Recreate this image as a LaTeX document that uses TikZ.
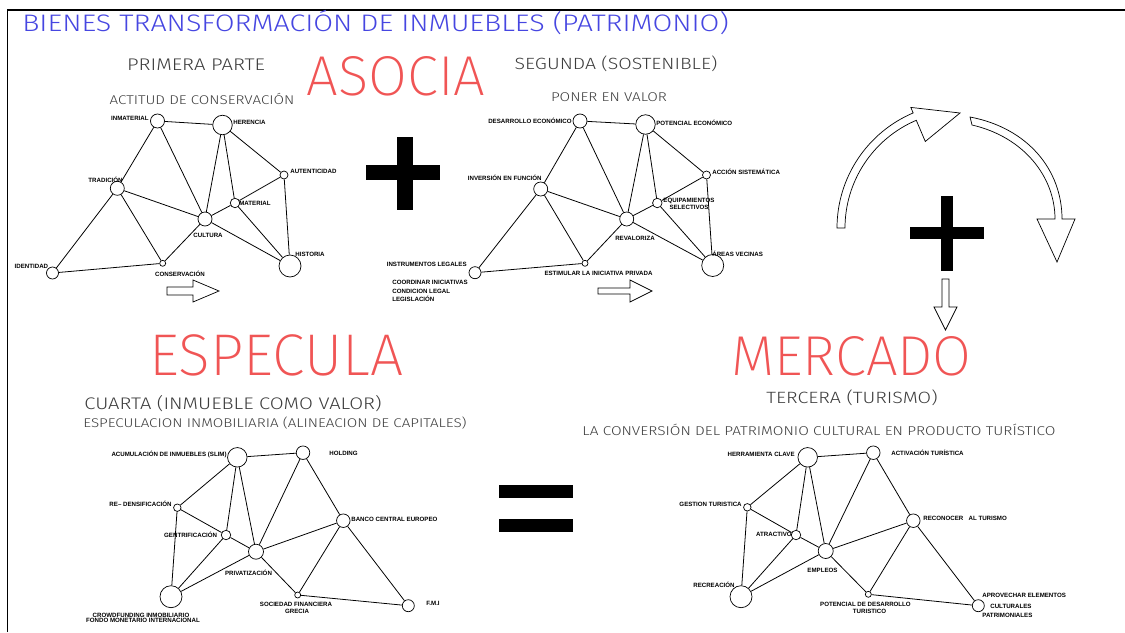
\documentclass[tikz,border=0pt]{standalone}
\usepackage{fontspec}
\setmainfont{Liberation Sans}
\newfontfamily\thinfont[FakeStretch=1.2]{Fira Sans Light}
\newfontfamily\hairfont{Fira Sans ExtraLight}

\definecolor{titleblue}{RGB}{70,70,225}
\definecolor{headred}{RGB}{240,85,85}
\definecolor{subgray}{RGB}{60,60,60}

\newcommand{\lblfont}{\fontsize{3.5}{4.1}\selectfont\bfseries}

\tikzset{
  nd/.style={circle,draw,line width=0.4pt,inner sep=0pt,minimum size=#1},
  lbl/.style={font=\lblfont,inner sep=0pt},
  edge/.style={line width=0.45pt},
  hollow/.style={draw,line width=0.4pt,fill=white},
  bigred/.style={font=\hairfont\fontsize{#1}{34}\selectfont,text=headred,inner sep=0pt},
  bigred/.default=32,
  subhead/.style={text=subgray,inner sep=0pt,font=\thinfont\fontsize{#1}{#1}\selectfont},
}

\begin{document}
\begin{tikzpicture}[x=0.02cm,y=-0.02cm]
    \useasboundingbox (0,0) rectangle (1125,632);
    \draw[line width=1.1pt] (7.5,632) -- (7.5,10) -- (1125,10);

    \node[font=\thinfont\fontsize{13.6}{16}\selectfont,text=titleblue,anchor=west,inner sep=0pt] (title) at (22,22.5) {BIENES TRANSFORMACIÓN DE INMUEBLES (PATRIMONIO)};
    \node[subhead=9.6] (primera) at (196,65) {PRIMERA PARTE};
    \node[bigred] (asocia) at (396,76) {ASOCIA};
    \node[subhead=9.25] (segunda) at (616,64) {SEGUNDA (SOSTENIBLE)};
    \node[subhead=7.2] (actitud) at (202,99) {ACTITUD DE CONSERVACIÓN};
    \node[subhead=7.25] (poner) at (609,97) {PONER EN VALOR};

    % primera parte
    \node[nd=0.28cm] (inm) at (157.5,121) {};
    \node[nd=0.39cm] (her) at (222.5,125) {};
    \node[nd=0.16cm] (aut) at (284,175) {};
    \node[nd=0.28cm] (tra) at (117.3,188.3) {};
    \node[nd=0.19cm] (mat) at (235,203) {};
    \node[nd=0.28cm] (cul) at (205,219) {};
    \node[nd=0.44cm] (his) at (290,266) {};
    \node[nd=0.24cm] (ide) at (52.5,273) {};
    \node[nd=0.12cm] (con) at (162.7,263.3) {};
    \foreach \a/\b in {inm/her,inm/tra,inm/cul,her/cul,her/mat,her/aut,aut/mat,aut/his,
        tra/cul,tra/ide,tra/con,mat/cul,mat/his,cul/his,cul/con,ide/con}
        \draw[edge] (\a) -- (\b);
    \node[lbl,anchor=east] (inm-t) at (149,118) {INMATERIAL};
    \node[lbl,anchor=west] (her-t) at (233,122.5) {HERENCIA};
    \node[lbl,anchor=west] (aut-t) at (290,171) {AUTENTICIDAD};
    \node[lbl,anchor=east] (tra-t) at (123,180) {TRADICIÓN};
    \node[lbl,anchor=west] (mat-t) at (239,203.5) {MATERIAL};
    \node[lbl] (cul-t) at (208,235) {CULTURA};
    \node[lbl,anchor=west] (his-t) at (295,254) {HISTORIA};
    \node[lbl,anchor=east] (ide-t) at (48.5,266) {IDENTIDAD};
    \node[lbl] (con-t) at (180,274) {CONSERVACIÓN};
    \draw[hollow] (167,287) -- (193,287) -- (193,280) -- (219,291) -- (193,302) -- (193,295) -- (167,295) -- cycle;

    \fill (366,165) rectangle (440,180);
    \fill (397,137) rectangle (413,210);

    % segunda
    \node[nd=0.28cm] (des) at (580,121) {};
    \node[nd=0.39cm] (pot) at (645.5,124.5) {};
    \node[nd=0.16cm] (acc) at (706.5,175) {};
    \node[nd=0.28cm] (inv) at (540.7,189) {};
    \node[nd=0.19cm] (equ) at (657.3,203) {};
    \node[nd=0.28cm] (rev) at (626.7,219) {};
    \node[nd=0.44cm] (are) at (712.7,265.5) {};
    \node[nd=0.24cm] (ins) at (475,272.7) {};
    \node[nd=0.12cm] (est) at (585,263.3) {};
    \foreach \a/\b in {des/pot,des/inv,des/rev,pot/rev,pot/equ,pot/acc,acc/equ,acc/are,
        inv/rev,inv/ins,inv/est,equ/rev,equ/are,rev/are,rev/est,ins/est}
        \draw[edge] (\a) -- (\b);
    \node[lbl,anchor=east] (des-t) at (572,121) {DESARROLLO ECONÓMICO};
    \node[lbl,anchor=west] (pot-t) at (656,122.5) {POTENCIAL ECONÓMICO};
    \node[lbl,anchor=west] (acc-t) at (712,171.5) {ACCIÓN SISTEMÁTICA};
    \node[lbl,anchor=east] (inv-t) at (542,177.5) {INVERSIÓN EN FUNCIÓN};
    \node[lbl,align=center] (equ-t) at (689,203.5) {EQUIPAMIENTOS\\SELECTIVOS};
    \node[lbl] (rev-t) at (635,238.3) {REVALORIZA};
    \node[lbl,anchor=west] (are-t) at (712,254) {ÁREAS VECINAS};
    \node[lbl,anchor=east] (ins-t) at (467,264.3) {INSTRUMENTOS LEGALES};
    \node[lbl,anchor=west] (coo-t) at (392,282) {COORDINAR INICIATIVAS};
    \node[lbl,anchor=west] (cnd-t) at (392,291) {CONDICION LEGAL};
    \node[lbl,anchor=west] (leg-t) at (392,299) {LEGISLACIÓN};
    \node[lbl] (est-t) at (598.5,273.3) {ESTIMULAR LA INICIATIVA PRIVADA};
    \draw[hollow] (598,288) -- (630,288) -- (630,280) -- (652,291) -- (630,302) -- (630,294) -- (598,294) -- cycle;

    % ciclo
    \coordinate (arcc) at (962,228);
    \draw[hollow] ([shift={(180:117)}]arcc) arc (180:247:117) -- ([shift={(247:94)}]arcc) -- (960,113)
        -- ([shift={(247:131)}]arcc) -- ([shift={(247:125)}]arcc) arc (247:180:125) -- cycle;
    \draw[hollow] (970,117) .. controls (1028,128) and (1062,170) .. (1062,219) -- (1075,219) -- (1057,262)
        -- (1037,219) -- (1055,219) .. controls (1055,177) and (1024,137) .. (972,125) -- cycle;
    \fill (910,227) rectangle (984,239);
    \fill (941,196) rectangle (953,271);
    \draw[hollow] (942,279) -- (949,279) -- (949,307) -- (957,307) -- (945.5,330) -- (934,307) -- (942,307) -- cycle;

    \node[bigred=33.5] (especula) at (276.5,355.5) {ESPECULA};
    \node[subhead=9.55] (cuarta) at (233,403.3) {CUARTA (INMUEBLE COMO VALOR)};
    \node[subhead=7.2] (espec) at (275,423) {ESPECULACION INMOBILIARIA (ALINEACION DE CAPITALES)};
    \node[bigred] (mercado) at (851.5,356) {MERCADO};
    \node[subhead=9.3] (tercera) at (852,398) {TERCERA (TURISMO)};
    \node[subhead=7.3] (conv) at (819,430) {LA CONVERSIÓN DEL PATRIMONIO CULTURAL EN PRODUCTO TURÍSTICO};

    % cuarta
    \node[nd=0.39cm] (acu) at (237.3,457.3) {};
    \node[nd=0.27cm] (hol) at (303,452.7) {};
    \node[nd=0.15cm] (red) at (177.3,507.7) {};
    \node[nd=0.19cm] (gen) at (226,535) {};
    \node[nd=0.30cm] (pri) at (256,551.7) {};
    \node[nd=0.27cm] (ban) at (343.3,520.7) {};
    \node[nd=0.44cm] (cro) at (171,596.7) {};
    \node[nd=0.12cm] (soc) at (297.7,595) {};
    \node[nd=0.24cm] (fmi) at (408.3,605.7) {};
    \foreach \a/\b in {acu/hol,acu/red,acu/gen,acu/pri,hol/pri,hol/ban,red/gen,red/cro,
        gen/pri,gen/cro,pri/cro,pri/ban,pri/soc,ban/soc,ban/fmi,soc/fmi}
        \draw[edge] (\a) -- (\b);
    \node[lbl,anchor=east] (acu-t) at (227,454) {ACUMULACIÓN DE INMUEBLES (SLIM)};
    \node[lbl,anchor=west] (hol-t) at (329,453) {HOLDING};
    \node[lbl,anchor=east] (red-t) at (172,504) {RE– DENSIFICACIÓN};
    \node[lbl,anchor=east] (gen-t) at (217.5,534.5) {GENTRIFICACIÓN};
    \node[lbl] (pri-t) at (248.5,572.7) {PRIVATIZACIÓN};
    \node[lbl,anchor=west] (ban-t) at (351,519) {BANCO CENTRAL EUROPEO};
    \node[lbl] (cro-t) at (141,615.3) {CROWDFUNDING INMOBILIARIO};
    \node[lbl] (fon-t) at (143,620.7) {FONDO MONETARIO INTERNACIONAL};
    \node[lbl] (soc-t) at (296,604) {SOCIEDAD FINANCIERA};
    \node[lbl] (gre-t) at (297,611.7) {GRECIA};
    \node[lbl,anchor=west] (fmi-t) at (426,603) {F.M.I};

    \fill (499,485) rectangle (573,498);
    \fill (499,519) rectangle (573,532);

    % tercera
    \node[nd=0.39cm] (hec) at (807.7,457.3) {};
    \node[nd=0.27cm] (act) at (873.3,452.7) {};
    \node[nd=0.15cm] (ges) at (747.3,507.3) {};
    \node[nd=0.19cm] (atr) at (796,535) {};
    \node[nd=0.30cm] (emp) at (825.7,551) {};
    \node[nd=0.27cm] (rec) at (913.3,520.7) {};
    \node[nd=0.44cm] (rcr) at (741,596.7) {};
    \node[nd=0.12cm] (pde) at (868.3,594.3) {};
    \node[nd=0.24cm] (apr) at (978.3,605.7) {};
    \foreach \a/\b in {hec/act,hec/ges,hec/atr,hec/emp,act/emp,act/rec,ges/atr,ges/rcr,
        atr/emp,atr/rcr,emp/rcr,emp/rec,emp/pde,rec/pde,rec/apr,pde/apr}
        \draw[edge] (\a) -- (\b);
    \node[lbl,anchor=east] (hec-t) at (795,454) {HERRAMIENTA CLAVE};
    \node[lbl,anchor=west] (act-t) at (891,453) {ACTIVACIÓN TURÍSTICA};
    \node[lbl,anchor=east] (ges-t) at (742,504) {GESTION TURISTICA};
    \node[lbl,anchor=east] (atr-t) at (792,534) {ATRACTIVO};
    \node[lbl] (emp-t) at (822.5,570) {EMPLEOS};
    \node[lbl,anchor=west] (rec-t) at (923,518) {RECONOCER\hspace{3pt}AL TURISMO};
    \node[lbl,anchor=east] (rcr-t) at (735,585) {RECREACIÓN};
    \node[lbl] (pde-t) at (865.5,604) {POTENCIAL DE DESARROLLO};
    \node[lbl] (tur-t) at (869.5,611.7) {TURISTICO};
    \node[lbl,anchor=west] (apr-t) at (982,595.7) {APROVECHAR ELEMENTOS};
    \node[lbl,anchor=west] (cul2-t) at (990,606.7) {CULTURALES};
    \node[lbl,anchor=west] (pat-t) at (982,615.7) {PATRIMONIALES};
\end{tikzpicture}
\end{document}
